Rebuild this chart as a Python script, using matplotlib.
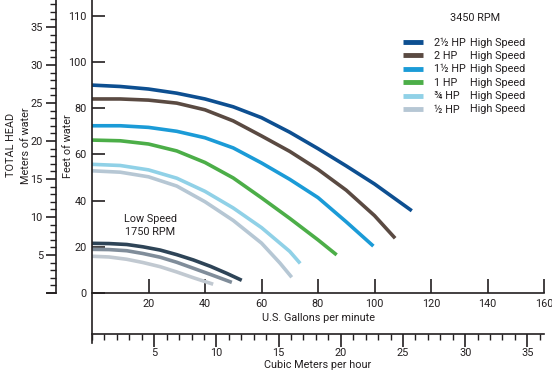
import matplotlib
matplotlib.use("Agg")
import matplotlib.pyplot as plt
from matplotlib.ticker import MultipleLocator, FixedLocator, NullLocator

plt.rcParams['font.family'] = ['Roboto', 'DejaVu Sans']

# ---------------- data ----------------
# High speed 3450 RPM curves: flow (US gpm) vs head (ft)
hp25_gpm = [0, 10, 20, 30, 40, 50, 60, 70, 80, 90, 100, 113.2]
hp25_ft = [90.0, 89.4, 88.3, 86.5, 84.0, 80.6, 75.9, 69.6, 62.5, 55.0, 47.2, 35.6]

hp20_gpm = [0, 10, 20, 30, 40, 50, 60, 70, 80, 90, 100, 107.3]
hp20_ft = [84.0, 84.0, 83.5, 82.2, 79.3, 74.5, 68.0, 61.3, 53.5, 44.5, 33.5, 23.7]

hp15_gpm = [0, 10, 20, 30, 40, 50, 60, 70, 80, 90, 99.6]
hp15_ft = [72.4, 72.4, 71.7, 70.0, 67.2, 62.8, 56.3, 49.2, 41.3, 30.8, 20.3]

hp10_gpm = [0, 10, 20, 30, 40, 50, 60, 70, 80, 86.6]
hp10_ft = [66.2, 65.9, 64.5, 61.5, 56.5, 49.8, 41.2, 32.3, 23.0, 16.5]

hp075_gpm = [0, 10, 20, 30, 40, 50, 60, 70, 73.7]
hp075_ft = [55.7, 55.2, 53.3, 49.7, 44.0, 36.8, 28.3, 18.0, 12.8]

hp05_gpm = [0, 10, 20, 30, 40, 50, 60, 66.5, 70.7]
hp05_ft = [52.9, 52.3, 50.3, 46.3, 39.5, 31.4, 21.6, 13.0, 6.8]

# Low speed 1750 RPM curves
low1_gpm = [0, 6, 12.3, 18, 24.1, 30, 35.9, 42, 47.7, 53.0]
low1_ft = [21.5, 21.4, 21.0, 20.0, 18.6, 16.6, 14.3, 11.5, 8.5, 5.5]
low2_gpm = [0, 6, 12.3, 18, 24.1, 30, 35.9, 42, 49.5]
low2_ft = [18.9, 18.8, 18.3, 17.1, 15.5, 13.3, 10.7, 8.0, 4.6]
low3_gpm = [0, 6, 12.3, 18, 24.1, 30, 35.9, 42.9]
low3_ft = [15.9, 15.6, 14.6, 13.2, 11.4, 9.1, 6.6, 3.8]

legend_labels = ["2\u00bd HP", "2 HP", "1\u00bd HP", "1 HP", "\u00be HP", "\u00bd HP"]
legend_suffix = "High Speed"

ft_ticks = [0, 20, 40, 60, 80, 100, 120]
ft_ticklabels = ["0", "20", "40", "60", "80", "100", "110"]
gpm_ticks = [20, 40, 60, 80, 100, 120, 140, 160]
m_ticks = [0, 5, 10, 15, 20, 25, 30, 35]
m_ticklabels = ["", "5", "10", "15", "20", "25", "30", "35"]
m3h_ticks = [5, 10, 15, 20, 25, 30, 35]

# ---------------- styling ----------------
W, H = 552, 373
DPI = 100
INK = "#231f20"
FS = 7.8
hi_colors = ["#0d4f91", "#5a4a42", "#1b9bd7", "#4cae48", "#90d1e7", "#b6c7d4"]
lo_colors = ["#2e4457", "#808d9a", "#c1c9d1"]
LW = 2.6

PX_PER_FT = 2.31
PX_PER_M = 7.6
Y0 = 293  # pixel row of 0 ft / 0 m
GPM_PER_M3H = 4.403

fig = plt.figure(figsize=(W / DPI, H / DPI), dpi=DPI)

# main axes: left spine at x=92, right at 544, top 0, bottom 343
ax = fig.add_axes([92 / W, (H - 343) / H, 452 / W, 343 / H])
ax.set_xlim(0, 160)
ax.set_ylim(-(343 - Y0) / PX_PER_FT, Y0 / PX_PER_FT)
for s in ["top", "right"]:
    ax.spines[s].set_visible(False)
ax.spines["bottom"].set_position(("data", 0))
for s in ["left", "bottom"]:
    ax.spines[s].set_linewidth(1.2)
    ax.spines[s].set_color(INK)

series = [
    (hp25_gpm, hp25_ft), (hp20_gpm, hp20_ft), (hp15_gpm, hp15_ft),
    (hp10_gpm, hp10_ft), (hp075_gpm, hp075_ft), (hp05_gpm, hp05_ft),
]
handles = []
for (x, y), c, lab in zip(series, hi_colors, legend_labels):
    ln, = ax.plot(x, y, color=c, lw=LW, solid_capstyle="butt", solid_joinstyle="round", label=lab)
    handles.append(ln)
for (x, y), c in zip([(low1_gpm, low1_ft), (low2_gpm, low2_ft), (low3_gpm, low3_ft)], lo_colors):
    ax.plot(x, y, color=c, lw=LW, solid_capstyle="butt", solid_joinstyle="round")

ax.xaxis.set_major_locator(FixedLocator(gpm_ticks))
ax.yaxis.set_major_locator(FixedLocator(ft_ticks))
ax.set_yticklabels(ft_ticklabels)
ax.tick_params(axis="both", direction="in", colors=INK, width=1.2, labelsize=FS)
ax.tick_params(axis="x", length=10, pad=4)
ax.tick_params(axis="y", length=9, pad=4)

ax.text(80, (Y0 - 318) / PX_PER_FT, "U.S. Gallons per minute", ha="center", va="center",
        fontsize=FS, color=INK)

# secondary axis: cubic meters per hour (line at y=334)
loc = ((343 - 334) / 343)
sec = ax.secondary_xaxis(loc, functions=(lambda g: g / GPM_PER_M3H, lambda m: m * GPM_PER_M3H))
sec.xaxis.set_major_locator(FixedLocator(m3h_ticks))
sec.xaxis.set_minor_locator(MultipleLocator(1))
sec.spines["bottom"].set_linewidth(1.2)
sec.spines["bottom"].set_color(INK)
sec.tick_params(axis="x", which="major", direction="out", length=9, width=1.2, pad=1.0,
                colors=INK, labelsize=FS)
sec.tick_params(axis="x", which="minor", direction="out", length=4, width=1.0, colors=INK)
fig.text(318 / W, 1 - 365 / H, "Cubic Meters per hour", ha="center", va="center",
         fontsize=FS, color=INK)

# meters axis on the far left (spine at x=56)
axm = fig.add_axes([47 / W, (H - Y0) / H, 9 / W, Y0 / H])
axm.set_ylim(0, Y0 / PX_PER_M)
axm.set_xlim(0, 1)
axm.patch.set_visible(False)
for s in ["top", "left"]:
    axm.spines[s].set_visible(False)
for s in ["right", "bottom"]:
    axm.spines[s].set_linewidth(1.2)
    axm.spines[s].set_color(INK)
axm.xaxis.set_major_locator(NullLocator())
axm.yaxis.set_major_locator(FixedLocator(m_ticks))
axm.set_yticklabels(m_ticklabels)
axm.yaxis.set_minor_locator(MultipleLocator(1))
axm.tick_params(axis="y", which="both", left=False, right=True, labelleft=True,
                labelright=False, direction="in", colors=INK)
axm.tick_params(axis="y", which="major", length=7, width=1.2, pad=3, labelsize=FS)
axm.tick_params(axis="y", which="minor", length=4, width=1.0)

# axis titles
fig.text(11 / W, 1 - 145 / H, "TOTAL HEAD", rotation=90, ha="center", va="center",
         fontsize=FS, color=INK)
fig.text(26 / W, 1 - 146 / H, "Meters of water", rotation=90, ha="center", va="center",
         fontsize=FS, color=INK)
fig.text(68 / W, 1 - 146 / H, "Feet of water", rotation=90, ha="center", va="center",
         fontsize=FS, color=INK)

# low speed annotation
fig.text(150 / W, 1 - 219 / H, "Low Speed", ha="center", va="center", fontsize=FS, color=INK)
fig.text(150 / W, 1 - 232 / H, "1750 RPM", ha="center", va="center", fontsize=FS, color=INK)

# legend
fig.text(475 / W, 1 - 18 / H, "3450 RPM", ha="center", va="center", fontsize=FS, color=INK)
leg = fig.legend(handles=handles, labels=legend_labels, loc="upper left",
                 bbox_to_anchor=(403 / W, 1 - 37.5 / H), frameon=False, borderpad=0,
                 borderaxespad=0, handlelength=1.85, handletextpad=1.0, labelspacing=0.32,
                 fontsize=FS, labelcolor=INK)
for ln in leg.get_lines():
    ln.set_linewidth(3.5)
for i in range(len(legend_labels)):
    fig.text(470 / W, 1 - (43.3 + 13.1 * i) / H, legend_suffix, ha="left", va="center",
             fontsize=FS, color=INK)

fig.savefig("out.png", dpi=DPI)
